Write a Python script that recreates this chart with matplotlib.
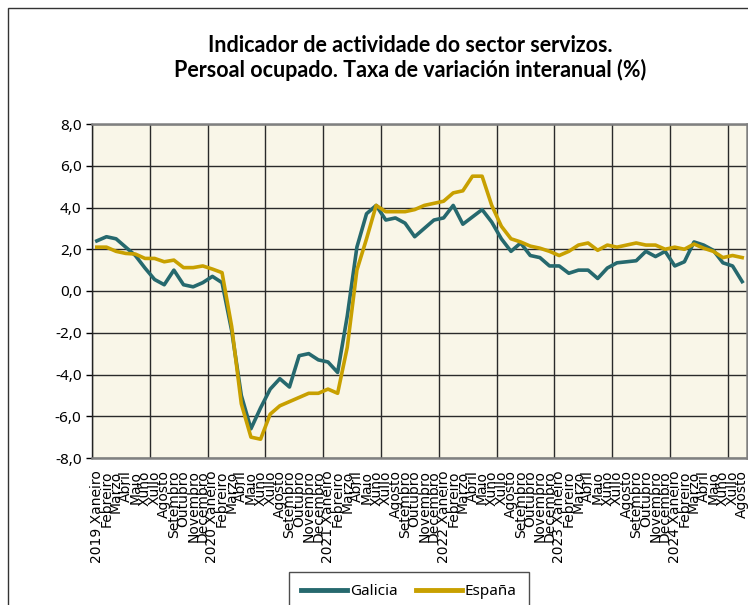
import numpy as np
import matplotlib
matplotlib.use("Agg")
import matplotlib.pyplot as plt
from matplotlib.patches import Rectangle

months = ["Xaneiro", "Febreiro", "Marzo", "Abril", "Maio", "Xuño", "Xullo",
          "Agosto", "Setembro", "Outubro", "Novembro", "Decembro"]
years = [2019, 2020, 2021, 2022, 2023, 2024]
n_last = 8  # 2024 ata agosto

labels = []
for y in years:
    for k, m in enumerate(months):
        if y == 2024 and k >= n_last:
            break
        labels.append(f"{y} {m}" if k == 0 else m)

galicia = [2.4, 2.6, 2.5, 2.1, 1.7, 1.1, 0.55, 0.3, 1.0, 0.3, 0.2, 0.4,
           0.7, 0.4, -1.9, -5.0, -6.6, -5.6, -4.7, -4.2, -4.6, -3.1, -3.0, -3.3,
           -3.4, -3.9, -1.2, 2.1, 3.7, 4.1, 3.4, 3.5, 3.25, 2.6, 3.0, 3.4,
           3.5, 4.1, 3.2, 3.55, 3.9, 3.3, 2.5, 1.9, 2.3, 1.7, 1.6, 1.2,
           1.2, 0.85, 1.0, 1.0, 0.6, 1.1, 1.35, 1.4, 1.45, 1.9, 1.65, 1.9,
           1.2, 1.4, 2.35, 2.2, 1.95, 1.35, 1.2, 0.45]
espana = [2.1, 2.1, 1.9, 1.8, 1.77, 1.56, 1.56, 1.4, 1.48, 1.12, 1.12, 1.2,
          1.05, 0.88, -1.7, -5.4, -7.0, -7.1, -5.9, -5.5, -5.3, -5.1, -4.9, -4.9,
          -4.7, -4.9, -2.7, 1.0, 2.5, 4.1, 3.8, 3.8, 3.8, 3.9, 4.1, 4.2,
          4.3, 4.7, 4.8, 5.5, 5.5, 4.1, 3.1, 2.5, 2.35, 2.15, 2.05, 1.9,
          1.7, 1.9, 2.2, 2.3, 1.95, 2.2, 2.1, 2.2, 2.3, 2.2, 2.2, 2.0,
          2.1, 2.0, 2.25, 2.05, 1.9, 1.6, 1.7, 1.6]

x = np.arange(len(labels))

fig = plt.figure(figsize=(7.48, 6.05), dpi=100)
fig.patches.append(Rectangle((8 / 748, -0.1), 1.2, 1 - 8 / 605 + 0.1,
                             transform=fig.transFigure, fill=False,
                             edgecolor="#333333", linewidth=1.0))
ax = fig.add_axes([92 / 748, 1 - 458 / 605, 655 / 748, (458 - 124) / 605])
ax.set_facecolor("#F9F6E8")

ax.plot(x, galicia, color="#26696E", lw=2.6, label="Galicia", zorder=3)
ax.plot(x, espana, color="#C8A000", lw=2.6, label="España", zorder=3)

ax.set_xlim(-0.5, len(labels) - 0.5)
ax.set_ylim(-8, 8)
ax.set_yticks(np.arange(-8, 9, 2))
ax.set_yticklabels([f"{v:.1f}".replace(".", ",") for v in np.arange(-8, 9, 2)],
                   family="Noto Sans", fontsize=11)
ax.set_xticks(x)
ax.set_xticklabels(labels, rotation=90, fontsize=10, family="DejaVu Sans")
ax.tick_params(axis="x", length=0, pad=9)
ax.tick_params(axis="y", length=4, width=1)

ax.set_xticks(np.arange(-0.5, len(labels), 6), minor=True)
ax.tick_params(axis="x", which="minor", length=0)
ax.grid(True, which="minor", axis="x", color="#2a2a2a", lw=1.0)
ax.grid(True, which="major", axis="y", color="#2a2a2a", lw=1.0)
ax.grid(False, which="major", axis="x")
ax.set_axisbelow(True)

for side in ["top", "bottom", "right"]:
    ax.spines[side].set_color("#808080")
    ax.spines[side].set_linewidth(1.8)
ax.spines["left"].set_color("#222222")
ax.spines["left"].set_linewidth(1.0)

title_font = ["Lato", "DejaVu Sans"]
fig.text(410 / 748, 1 - 45 / 605, "Indicador de actividade do sector servizos.",
         ha="center", va="center", fontsize=15.5, fontweight="bold", family=title_font)
fig.text(410 / 748, 1 - 70 / 605, "Persoal ocupado. Taxa de variación interanual (%)",
         ha="center", va="center", fontsize=15.5, fontweight="bold", family=title_font)

leg = fig.legend(loc="upper center", bbox_to_anchor=(409 / 748, 1 - 564 / 605),
                 ncol=2, frameon=True, fancybox=False,
                 prop={"family": "Noto Sans", "size": 11},
                 handlelength=3.0, handletextpad=0.2, columnspacing=1.2,
                 borderpad=0.8)
leg.get_frame().set_edgecolor("#222222")
leg.get_frame().set_linewidth(1.0)
for h in leg.get_lines():
    h.set_linewidth(3.5)

fig.savefig("out.png", dpi=100)
